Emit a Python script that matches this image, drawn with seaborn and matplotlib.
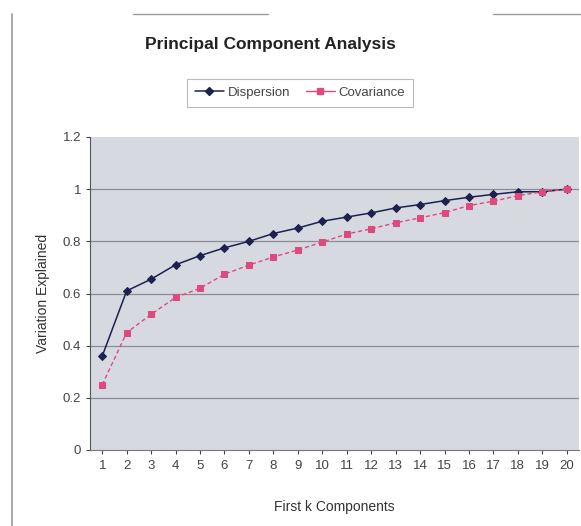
import matplotlib
matplotlib.use("Agg")
import matplotlib.pyplot as plt
import seaborn as sns
import pandas as pd
from matplotlib.lines import Line2D

components = list(range(1, 21))
dispersion = [0.36, 0.61, 0.655, 0.71, 0.745, 0.775, 0.80, 0.83, 0.851, 0.877,
              0.893, 0.909, 0.928, 0.941, 0.956, 0.969, 0.98, 0.99, 0.99, 1.0]
covariance = [0.25, 0.45, 0.52, 0.585, 0.62, 0.674, 0.709, 0.74, 0.767, 0.797,
              0.828, 0.848, 0.871, 0.89, 0.91, 0.937, 0.954, 0.975, 0.99, 1.0]
y_ticks = [0, 0.2, 0.4, 0.6, 0.8, 1.0, 1.2]
y_tick_labels = ["0", "0.2", "0.4", "0.6", "0.8", "1", "1.2"]

sns.set_style("white")
plt.rcParams['font.family'] = ['Liberation Sans', 'DejaVu Sans']

df = pd.DataFrame({"k": components, "Dispersion": dispersion, "Covariance": covariance})

fig = plt.figure(figsize=(5.81, 5.26), dpi=100)
ax = fig.add_axes([90/581, 1-450/526, 489/581, (450-137)/526])
ax.set_facecolor("#D6D9DF")

navy = "#1C2150"
pink = "#DE4A7E"
sns.lineplot(data=df, x="k", y="Dispersion", ax=ax, color=navy, marker="D",
             markersize=4.5, linewidth=1.1, markeredgecolor=navy)
sns.lineplot(data=df, x="k", y="Covariance", ax=ax, color=pink, marker="s",
             markersize=4.5, linewidth=1.0, linestyle=(0, (3, 2)), markeredgecolor=pink)

ax.set_xlim(0.5, 20.5)
ax.set_ylim(0, 1.2)
ax.set_yticks(y_ticks)
ax.set_yticklabels(y_tick_labels)
ax.set_xticks(components)
ax.set_xticklabels([str(c) for c in components])
for yv in y_ticks[1:-1]:
    ax.axhline(yv, color="#8A8D93", linewidth=0.9, zorder=0.5)

for s in ["top", "right"]:
    ax.spines[s].set_visible(False)
ax.spines["left"].set_color("#555555")
ax.spines["bottom"].set_color("#777777")
ax.tick_params(axis="both", labelsize=9.5, colors="#444444", length=3,
               direction="out", left=True, bottom=True)
ax.tick_params(axis="x", pad=4)

ax.set_xlabel("First k Components", fontsize=10, color="#333333", labelpad=20)
ax.set_ylabel("Variation Explained", fontsize=10, color="#333333", labelpad=9)

fig.text(270/581, 1-45/526, "Principal Component Analysis", ha="center", va="center",
         fontsize=12.5, color="#222222", fontweight="semibold")

handles = [Line2D([], [], color=navy, marker="D", markersize=4, linewidth=1.1),
           Line2D([], [], color=pink, marker="s", markersize=4, linewidth=1.0)]
leg = fig.legend(handles, ["Dispersion", "Covariance"], loc="center",
                 bbox_to_anchor=(300/581, 1-93/526), ncol=2, fontsize=9.5,
                 frameon=True, fancybox=False, handlelength=2.2, columnspacing=1.2,
                 handletextpad=0.3, borderpad=0.6)
leg.get_frame().set_edgecolor("#AAAAAA")
leg.get_frame().set_linewidth(0.8)
for t in leg.get_texts():
    t.set_color("#444444")

# chart frame remnants
fig.add_artist(Line2D([12/581, 12/581], [0, 1-14/526], color="#9A9A9A", linewidth=1.2))
fig.add_artist(Line2D([133/581, 268/581], [1-14/526, 1-14/526], color="#9A9A9A", linewidth=1.0))
fig.add_artist(Line2D([493/581, 1.0], [1-14/526, 1-14/526], color="#9A9A9A", linewidth=1.0))

fig.savefig("out.png", dpi=100)
